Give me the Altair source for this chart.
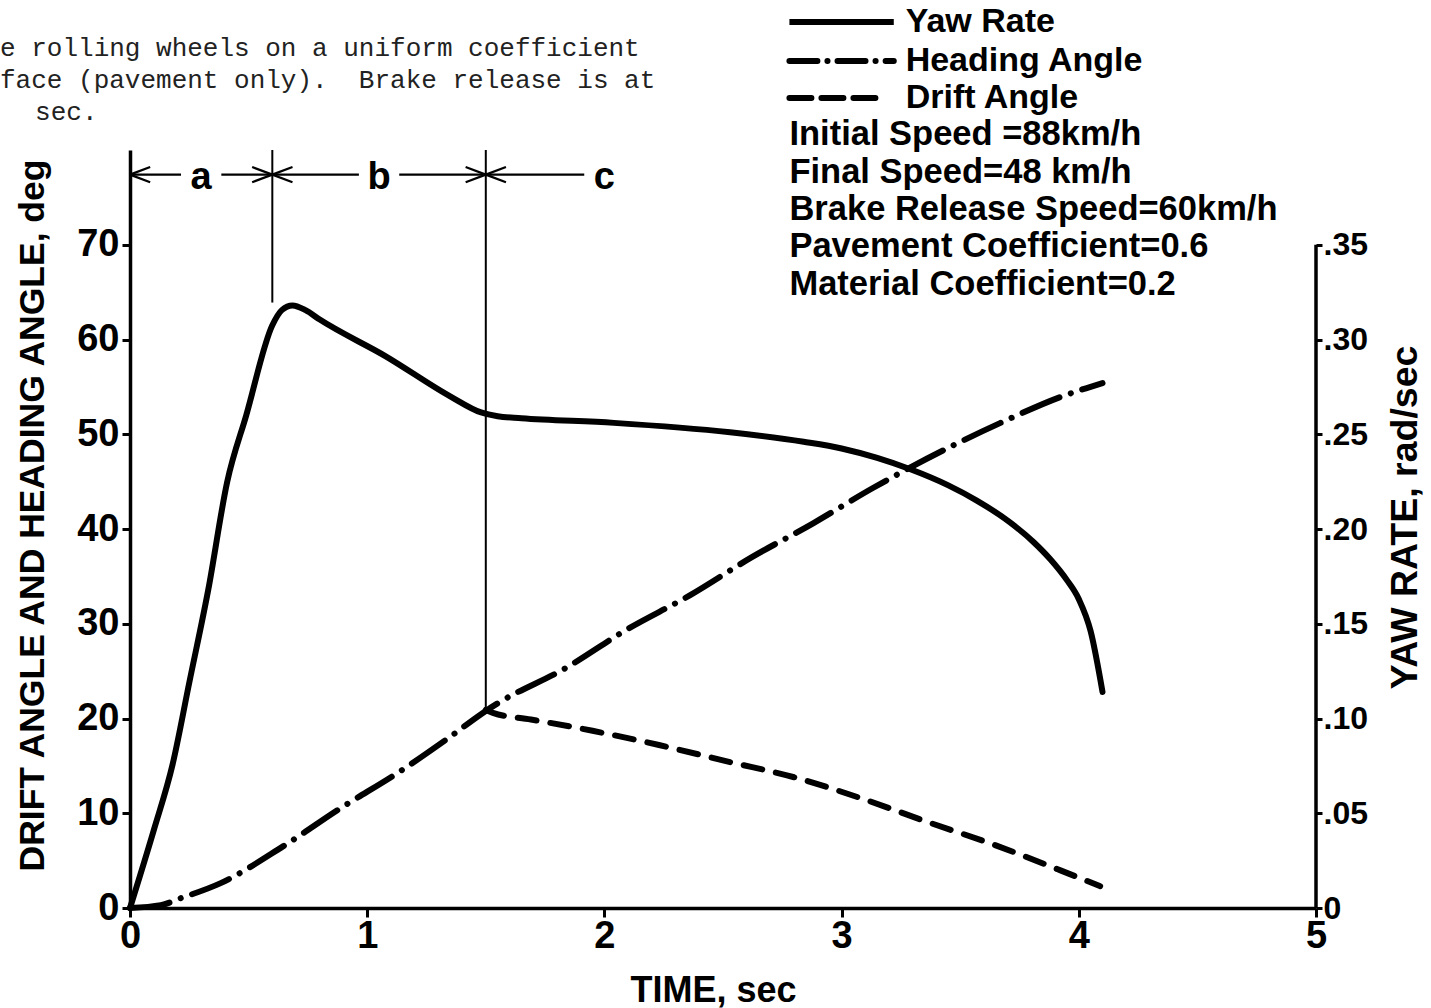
import altair as alt
import pandas as pd

# ---------------- data ----------------
yaw_time = [0.0, 0.10, 0.18, 0.25, 0.33, 0.41, 0.49, 0.60, 0.64, 0.685, 0.74, 0.80,
            1.08, 1.35, 1.48, 1.55, 1.65, 2.04, 2.53, 2.84, 3.00, 3.15, 3.29, 3.45,
            3.57, 3.71, 3.81, 3.88, 3.95, 4.00, 4.05, 4.10]
yaw_rate = [0.0, 0.041, 0.076, 0.119, 0.168, 0.225, 0.260, 0.3075, 0.3155, 0.318,
            0.3155, 0.3105, 0.291, 0.270, 0.2615, 0.2595, 0.2585, 0.256, 0.251, 0.246,
            0.2425, 0.2375, 0.2315, 0.223, 0.215, 0.2035, 0.193, 0.184, 0.173, 0.163,
            0.146, 0.114]

heading_time = [0.0, 0.13, 0.21, 0.38, 0.645, 0.898, 1.125, 1.34, 1.50, 1.55, 1.835,
                2.095, 2.36, 2.62, 2.88, 3.13, 3.29, 3.67, 3.93, 4.10]
heading_angle = [0.0, 0.3, 1.0, 2.6, 6.5, 10.7, 14.2, 17.9, 20.8, 21.6, 25.3, 29.4,
                 33.0, 37.0, 40.6, 44.3, 46.5, 51.2, 54.0, 55.4]

drift_time = [1.50, 1.53, 1.69, 1.95, 2.23, 2.53, 2.80, 3.08, 3.36, 3.64, 3.92, 4.09]
drift_angle = [20.9, 20.6, 19.9, 18.7, 17.2, 15.4, 13.8, 11.6, 9.1, 6.7, 4.0, 2.3]

phase_names = ["a", "b", "c"]
phase_bounds = [0.0, 0.6, 1.5]

x_ticks = [0, 1, 2, 3, 4, 5]
left_ticks = [0, 10, 20, 30, 40, 50, 60, 70]
right_ticks = [0, 0.05, 0.10, 0.15, 0.20, 0.25, 0.30, 0.35]

legend_labels = ["Yaw Rate", "Heading Angle", "Drift Angle"]
condition_lines = ["Initial Speed =88km/h", "Final Speed=48 km/h",
                   "Brake Release Speed=60km/h", "Pavement Coefficient=0.6",
                   "Material Coefficient=0.2"]
caption_lines = ["e rolling wheels on a uniform coefficient",
                 "face (pavement only).\u00a0 Brake release is at",
                 "sec."]

# ---------------- layout (data units of the chart scales) ----------------
X_DOMAIN = [0, 5]
Y_DOMAIN = [0, 80]          # deg, top of plot frame
R_DOMAIN = [0, 0.4]         # rad/sec
R_AXIS_TOP = 0.35
ARROW_Y = 77.4
ARROW_LEN = 0.085
ARROW_SPREAD = 0.8
TEXT_GAP = 0.085
PHASE_TEXT_Y = 75.9
BOUNDARY_BOTTOM = [None, 63.9, 20.9]
LEG_X0, LEG_X1 = 2.78, 3.22
LEG_TEXT_X = 3.27
LEG_ROWS = [93.5, 89.4, 85.5]
COND_ROWS = [81.6, 77.6, 73.7, 69.8, 65.8]
CAP_X = [-0.548, -0.548, -0.40]
CAP_ROWS = [90.8, 87.4, 84.0]

FONT = "Liberation Sans"
WEIGHT = "bold"
MONO = "Liberation Mono"
DASH_HEAD = [40, 12, 0.1, 12]
DASH_DRIFT = [19, 14]

xscale = alt.Scale(domain=X_DOMAIN, nice=False, zero=False)
yscale = alt.Scale(domain=Y_DOMAIN, nice=False)
rscale = alt.Scale(domain=R_DOMAIN, nice=False)

x_axis = alt.Axis(values=x_ticks, title="TIME, sec", format="d", grid=False,
                  labelFontSize=38, labelFont=FONT, labelFontWeight=WEIGHT,
                  labelColor="black", labelFlush=False,
                  labelPadding=0, tickSize=9, tickWidth=3, tickColor="black",
                  domainWidth=3.5, domainColor="black",
                  titleFont=FONT, titleFontSize=36, titleFontWeight=WEIGHT,
                  titleColor="black", titleX=583, titleY=82, titleBaseline="middle",
                  titleAlign="center")
y_axis = alt.Axis(values=left_ticks, title="DRIFT ANGLE AND HEADING ANGLE, deg",
                  format="d", grid=False, labelFontSize=38, labelFont=FONT,
                  labelFontWeight=WEIGHT,
                  labelColor="black", labelFlush=False, labelPadding=3, tickSize=8,
                  tickWidth=3, tickColor="black", domainWidth=3.5, domainColor="black",
                  titleFont=FONT, titleFontSize=35.5, titleFontWeight=WEIGHT,
                  titleColor="black", titleAngle=270, titleX=-98, titleY=365,
                  titleBaseline="middle", titleAlign="center")
r_axis = alt.Axis(values=right_ticks, orient="right", title="YAW RATE, rad/sec",
                  labelExpr="datum.value == 0 ? '0' : substring(format(datum.value, '.2f'), 1)",
                  grid=False, domain=False, labelFontSize=32, labelFont=FONT,
                  labelFontWeight=WEIGHT,
                  labelColor="black", labelFlush=False, labelPadding=1, tickSize=6,
                  tickWidth=3, tickColor="black",
                  titleFont=FONT, titleFontSize=37.5, titleFontWeight=WEIGHT,
                  titleColor="black", titleAngle=270, titleX=89, titleY=367,
                  titleBaseline="middle", titleAlign="center")


def X(field):
    return alt.X(f"{field}:Q", scale=xscale, axis=x_axis)


def Y(field):
    return alt.Y(f"{field}:Q", scale=yscale, axis=y_axis)


def R(field):
    return alt.Y(f"{field}:Q", scale=rscale, axis=r_axis)


# ---------------- tables ----------------
heading_df = pd.DataFrame({"t": heading_time, "v": heading_angle})
drift_df = pd.DataFrame({"t": drift_time, "v": drift_angle})
yaw_df = pd.DataFrame({"t": yaw_time, "v": yaw_rate})

seg_rows = []
text_rows = []
for i, name in enumerate(phase_names):
    start = phase_bounds[i]
    end = phase_bounds[i + 1] if i + 1 < len(phase_bounds) else None
    mid = (start + end) / 2 if end is not None else start + 0.5
    text_rows.append({"t": mid, "v": PHASE_TEXT_Y, "label": name})
    seg_rows.append({"x": start, "y": ARROW_Y, "x2": mid - TEXT_GAP, "y2": ARROW_Y})
    for s in (1, -1):
        seg_rows.append({"x": start, "y": ARROW_Y, "x2": start + ARROW_LEN,
                         "y2": ARROW_Y + s * ARROW_SPREAD})
    if end is not None:
        seg_rows.append({"x": mid + TEXT_GAP, "y": ARROW_Y, "x2": end, "y2": ARROW_Y})
        for s in (1, -1):
            seg_rows.append({"x": end, "y": ARROW_Y, "x2": end - ARROW_LEN,
                             "y2": ARROW_Y + s * ARROW_SPREAD})
seg_df = pd.DataFrame(seg_rows)
phase_text_df = pd.DataFrame(text_rows)

bound_rows = []
for b, bottom in zip(phase_bounds, BOUNDARY_BOTTOM):
    if bottom is not None:
        bound_rows.append({"x": b, "y": bottom, "y2": Y_DOMAIN[1]})
bound_df = pd.DataFrame(bound_rows)

leg_df = pd.DataFrame({"x": [LEG_X0] * 3, "x2": [LEG_X1, LEG_X1, LEG_X1 - 0.05],
                       "y": LEG_ROWS, "label": legend_labels})
leg_text_df = pd.DataFrame({"x": [LEG_TEXT_X] * 3, "y": LEG_ROWS, "label": legend_labels})
cond_df = pd.DataFrame({"x": [LEG_X0] * len(condition_lines), "y": COND_ROWS,
                        "label": condition_lines})
cap_df = pd.DataFrame({"x": CAP_X, "y": CAP_ROWS, "label": caption_lines})
raxis_df = pd.DataFrame({"x": [X_DOMAIN[1]], "y": [0.0], "y2": [R_AXIS_TOP]})

# ---------------- marks ----------------
heading = alt.Chart(heading_df).mark_line(
    color="black", strokeWidth=6, strokeDash=DASH_HEAD, strokeCap="round",
    interpolate="monotone").encode(x=X("t"), y=Y("v"))
drift = alt.Chart(drift_df).mark_line(
    color="black", strokeWidth=6, strokeDash=DASH_DRIFT, strokeCap="round",
    interpolate="monotone").encode(x=X("t"), y=Y("v"))
bounds = alt.Chart(bound_df).mark_rule(color="black", strokeWidth=2).encode(
    x=X("x"), y=Y("y"), y2="y2:Q")
arrows = alt.Chart(seg_df).mark_rule(color="black", strokeWidth=2.2).encode(
    x=X("x"), y=Y("y"), x2="x2:Q", y2="y2:Q")
phase_text = alt.Chart(phase_text_df).mark_text(
    font=FONT, fontSize=38, fontWeight=WEIGHT, color="black", align="center",
    baseline="alphabetic").encode(x=X("t"), y=Y("v"), text="label:N")

leg_solid = alt.Chart(leg_df.iloc[[0]]).mark_rule(
    color="black", strokeWidth=6).encode(x=X("x"), x2="x2:Q", y=Y("y"))
leg_head = alt.Chart(leg_df.iloc[[1]]).mark_rule(
    color="black", strokeWidth=6, strokeDash=[28, 10, 0.1, 10], strokeCap="round").encode(
    x=X("x"), x2="x2:Q", y=Y("y"))
leg_drift = alt.Chart(leg_df.iloc[[2]]).mark_rule(
    color="black", strokeWidth=6, strokeDash=[22, 10], strokeCap="round").encode(
    x=X("x"), x2="x2:Q", y=Y("y"))
leg_text = alt.Chart(leg_text_df).mark_text(
    font=FONT, fontSize=34, fontWeight=WEIGHT, color="black", align="left",
    baseline="middle").encode(x=X("x"), y=Y("y"), text="label:N")
cond_text = alt.Chart(cond_df).mark_text(
    font=FONT, fontSize=34.5, fontWeight=WEIGHT, color="black", align="left",
    baseline="middle").encode(x=X("x"), y=Y("y"), text="label:N")
cap_text = alt.Chart(cap_df).mark_text(
    font=MONO, fontSize=26, color="#222222", align="left", baseline="middle").encode(
    x=X("x"), y=Y("y"), text="label:N")

left_group = alt.layer(heading, drift, bounds, arrows, phase_text, leg_solid, leg_head,
                       leg_drift, leg_text, cond_text, cap_text)

yaw = alt.Chart(yaw_df).mark_line(
    color="black", strokeWidth=6, strokeCap="round", strokeJoin="round",
    interpolate="monotone").encode(x=X("t"), y=R("v"))
raxis = alt.Chart(raxis_df).mark_rule(color="black", strokeWidth=3.5).encode(
    x=X("x"), y=R("y"), y2="y2:Q")
right_group = alt.layer(yaw, raxis)

chart = alt.layer(left_group, right_group).resolve_scale(y="independent").properties(
    width=1186, height=758,
    padding={"left": 130, "top": 150, "right": 115, "bottom": 100},
    autosize=alt.AutoSizeParams(type="none"),
    background="white",
).configure_view(stroke="transparent")

chart.save("out.html", embed_options={"renderer": "svg", "actions": False})
